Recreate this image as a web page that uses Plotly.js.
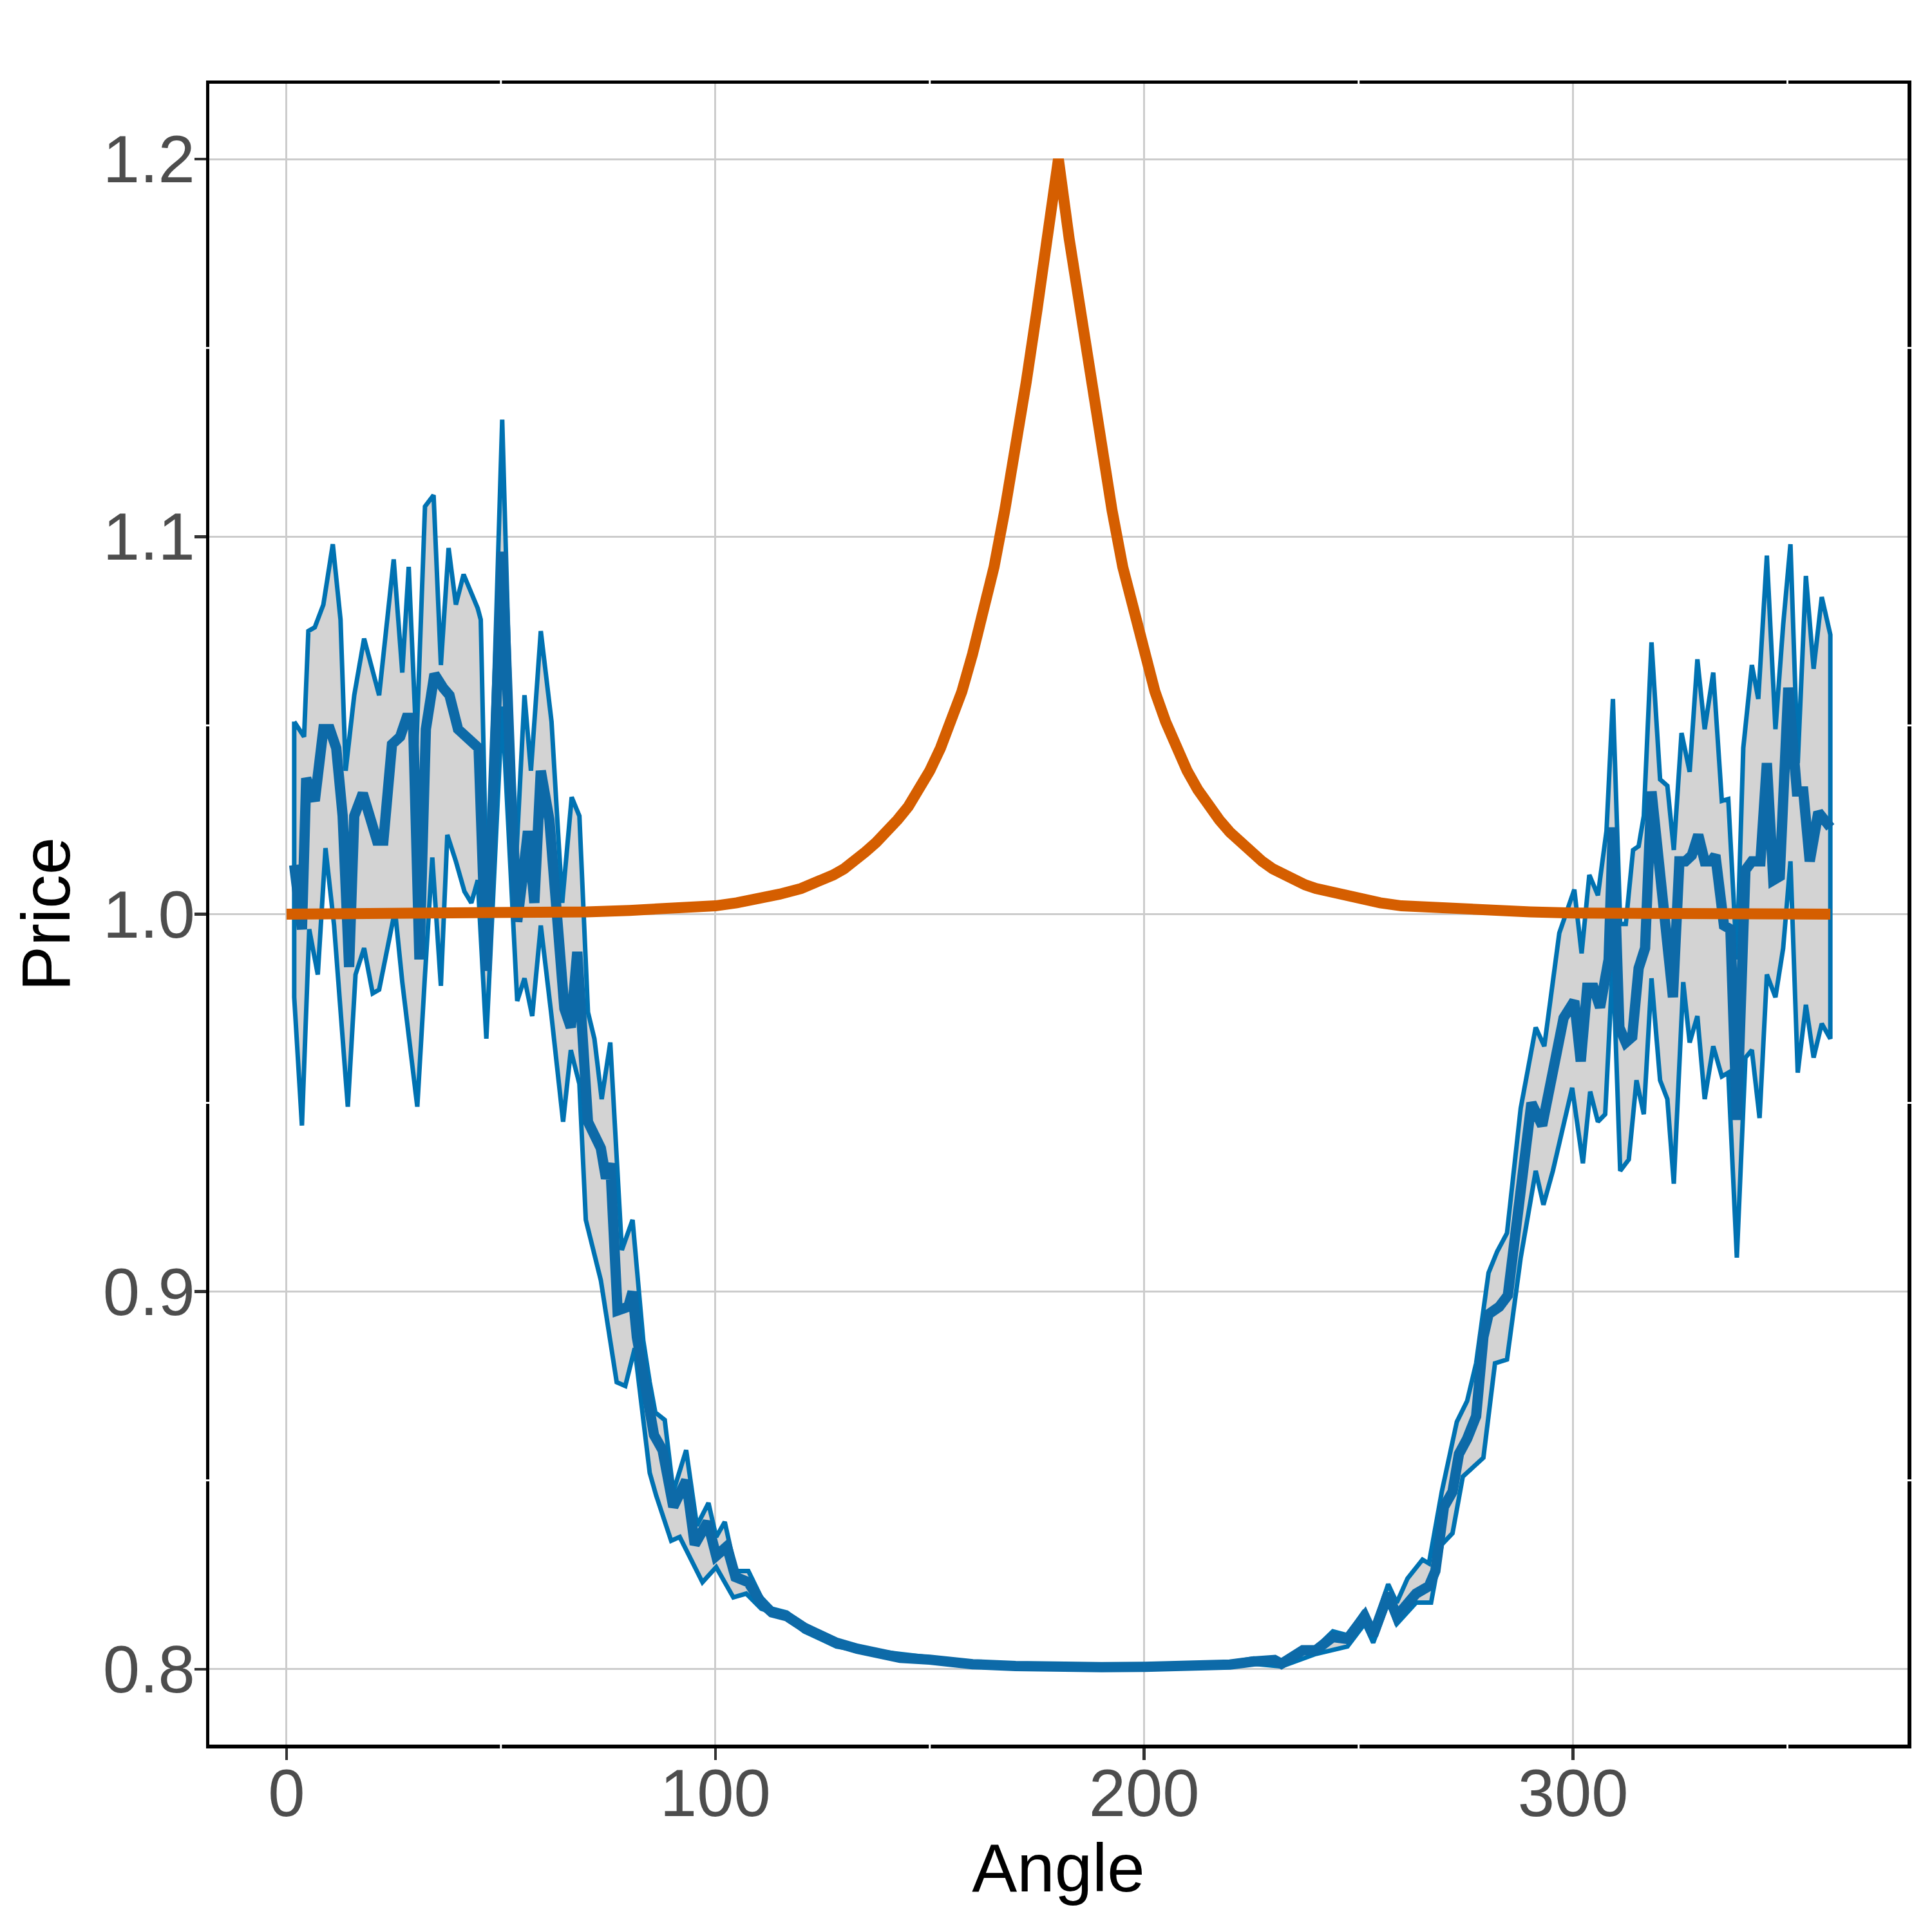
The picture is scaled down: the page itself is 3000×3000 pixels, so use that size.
<!DOCTYPE html>
<html>
<head>
<meta charset="utf-8">
<script src="https://cdn.plot.ly/plotly-3.0.1.min.js"></script>
<style>
  html, body { margin: 0; padding: 0; background: #ffffff; }
  #chart { width: 3000px; height: 3000px; }
</style>
</head>
<body>
<div id="chart"></div>
<script>
// upper edge of the band
let upperAngle = [1.8, 4.1, 5.1, 6.6, 8.6, 10.8, 12.6, 13.8, 15.8, 18.1, 21.6, 25.0, 27.0, 28.5, 30.3, 32.3, 34.3, 36.0, 37.8, 39.5,
  41.3, 44.6, 45.3, 46.8, 50.3, 53.3, 55.5, 57.0, 59.3, 61.8, 64.3, 66.5, 68.3, 70.3, 71.8, 73.5, 75.5, 78.2, 80.7, 83.2,
  84.7, 86.0, 88.2, 90.2, 93.2, 95.7, 98.4, 100.2, 102.2, 104.7, 107.7, 110.7, 113.2, 116.7, 120.7, 128.2, 133.1, 138.1, 143.1, 150,
  160, 170, 180, 190, 200, 210, 220, 225.5, 232, 240, 244, 247.4, 251.4, 253.4, 256.9, 258.9, 261.4, 264.9, 266.4, 269.4,
  272.9, 275.3, 277.4, 280.3, 282.3, 284.6, 287.8, 291.3, 293.3, 296.8, 300.3, 302.0, 303.8, 305.8, 307.8, 309.3, 311.0, 312.3, 314.0, 315.3,
  316.5, 318.3, 320.3, 322.0, 323.5, 325.3, 327.2, 329.0, 330.7, 332.7, 334.7, 336.2, 338.2, 339.7, 341.7, 343.2, 345.2, 347.2, 349.0, 350.7,
  352.4, 354.3, 356.1, 358.0, 360.0]
let upperPrice = [1.051, 1.047, 1.075, 1.076, 1.082, 1.098, 1.078, 1.038, 1.058, 1.073, 1.058, 1.094, 1.064, 1.092, 1.045, 1.108, 1.111, 1.066, 1.097, 1.082,
  1.090, 1.081, 1.078, 0.999, 1.131, 1.009, 1.058, 1.038, 1.075, 1.051, 1.003, 1.031, 1.026, 0.974, 0.967, 0.951, 0.966, 0.911, 0.919, 0.887,
  0.876, 0.868, 0.866, 0.847, 0.858, 0.838, 0.844, 0.835, 0.839, 0.826, 0.826, 0.819, 0.816, 0.815, 0.811, 0.8075, 0.806, 0.8047, 0.804, 0.803,
  0.8018, 0.8012, 0.8008, 0.8008, 0.8009, 0.8012, 0.8018, 0.8028, 0.8022, 0.8056, 0.810, 0.809, 0.8155, 0.8106, 0.8225, 0.8176, 0.824, 0.829, 0.828, 0.847,
  0.8655, 0.871, 0.881, 0.905, 0.9106, 0.9155, 0.9486, 0.970, 0.965, 0.995, 1.0065, 0.9896, 1.0104, 1.005, 1.022, 1.057, 0.9974, 0.9974, 1.017, 1.018,
  1.026, 1.072, 1.0357, 1.034, 1.017, 1.048, 1.0377, 1.0675, 1.049, 1.064, 1.030, 1.0305, 0.988, 1.044, 1.066, 1.057, 1.095, 1.049, 1.0766, 1.098,
  1.040, 1.0896, 1.065, 1.084, 1.074]

// lower edge of the band
let lowerAngle = [1.8, 3.6, 5.3, 7.3, 9.1, 11.1, 14.3, 16.1, 18.1, 20.1, 21.6, 25.3, 27.0, 30.5, 32.3, 34.0, 36.0, 37.5, 39.5, 41.5,
  43.1, 44.6, 46.6, 50.3, 53.8, 55.5, 57.3, 59.3, 61.8, 64.5, 66.3, 68.3, 69.8, 73.3, 77.0, 79.0, 81.2, 84.7, 86.2, 89.7,
  91.7, 97.0, 100.2, 104.2, 107.2, 110.7, 116.7, 120.7, 128.2, 138.1, 143.1, 150, 160, 170, 180, 190, 200, 210, 220, 225.5,
  232, 240, 247.4, 251.4, 253.4, 256.9, 258.9, 263.4, 266.9, 269.4, 271.9, 274.3, 279.1, 281.8, 284.6, 287.8, 291.3, 293.1, 295.3, 299.8,
  302.3, 304.0, 305.8, 307.5, 309.3, 311.0, 313.0, 314.8, 316.5, 318.3, 320.3, 322.0, 323.5, 325.7, 327.2, 329.0, 330.7, 332.7, 334.7, 336.2,
  338.2, 340.2, 341.7, 343.5, 345.2, 347.2, 349.0, 350.7, 352.4, 354.3, 356.1, 358.0, 360.0]
let lowerPrice = [0.978, 0.944, 0.996, 0.984, 1.0175, 0.997, 0.949, 0.984, 0.991, 0.979, 0.980, 1.001, 0.982, 0.949, 0.984, 1.015, 0.981, 1.021, 1.014, 1.006,
  1.003, 1.009, 0.967, 1.055, 0.977, 0.983, 0.973, 0.997, 0.973, 0.945, 0.964, 0.955, 0.919, 0.903, 0.876, 0.875, 0.885, 0.852, 0.846, 0.834,
  0.835, 0.823, 0.827, 0.819, 0.820, 0.816, 0.8136, 0.810, 0.806, 0.804, 0.803, 0.802, 0.8008, 0.8003, 0.8001, 0.8001, 0.8002, 0.8004, 0.8008, 0.8014,
  0.8007, 0.804, 0.806, 0.812, 0.807, 0.8176, 0.812, 0.8176, 0.8176, 0.833, 0.836, 0.851, 0.856, 0.881, 0.882, 0.909, 0.932, 0.923, 0.932, 0.954,
  0.934, 0.953, 0.945, 0.947, 0.988, 0.932, 0.935, 0.956, 0.947, 0.983, 0.956, 0.951, 0.9286, 0.982, 0.966, 0.973, 0.951, 0.965, 0.957, 0.958,
  0.909, 0.962, 0.964, 0.946, 0.984, 0.978, 0.991, 1.014, 0.958, 0.976, 0.962, 0.971, 0.967]

// mean line
let meanAngle = [1.8, 3.6, 4.6, 6.6, 8.6, 10.1, 11.6, 13.1, 14.6, 15.8, 17.8, 19.6, 21.1, 22.6, 24.6, 26.5, 28.0, 29.5, 31.0, 32.5,
  34.5, 36.5, 38.0, 40.0, 42.3, 44.8, 46.6, 50.3, 52.3, 53.8, 55.3, 56.3, 57.8, 59.3, 61.3, 63.3, 64.8, 66.3, 67.8, 70.3,
  73.3, 74.5, 75.5, 77.2, 79.7, 80.7, 81.7, 83.7, 85.7, 87.7, 90.2, 93.2, 95.2, 98.2, 100.2, 102.7, 104.7, 107.7, 110.7, 113.2,
  116.7, 120.7, 128.2, 133.1, 138.1, 143.1, 150, 160, 170, 180, 190, 200, 210, 220, 225.5, 230.4, 232, 237, 240, 244,
  247.4, 251.4, 253.4, 256.9, 258.9, 263.4, 266.4, 267.9, 269.9, 271.9, 273.4, 275.3, 277.4, 279.1, 280.3, 282.8, 284.8, 286.3, 288.3, 290.3,
  292.8, 295.3, 297.8, 300.3, 301.8, 303.3, 304.8, 306.3, 308.3, 309.3, 310.8, 312.3, 313.8, 315.3, 316.8, 318.3, 319.8, 321.8, 323.3, 324.8,
  326.2, 327.7, 329.2, 330.7, 332.2, 333.2, 335.2, 336.7, 338.2, 340.2, 341.7, 343.7, 345.2, 346.7, 348.2, 350.2, 352.2, 353.7, 355.2, 357.2,
  360.0]
let meanPrice = [1.013, 0.996, 1.036, 1.030, 1.049, 1.049, 1.044, 1.026, 0.986, 1.026, 1.032, 1.026, 1.0195, 1.0195, 1.045, 1.047, 1.052, 1.052, 0.988, 1.049,
  1.0636, 1.060, 1.058, 1.049, 1.047, 1.044, 0.985, 1.096, 1.035, 0.998, 1.012, 1.022, 1.003, 1.038, 1.025, 1.000, 0.975, 0.970, 0.990, 0.945,
  0.938, 0.930, 0.934, 0.895, 0.896, 0.900, 0.888, 0.875, 0.862, 0.858, 0.843, 0.850, 0.833, 0.839, 0.830, 0.8325, 0.8244, 0.823, 0.8176, 0.815,
  0.814, 0.811, 0.807, 0.8054, 0.804, 0.803, 0.8025, 0.8013, 0.8008, 0.8005, 0.8005, 0.8006, 0.8008, 0.8012, 0.8020, 0.8024, 0.8014, 0.805, 0.805, 0.8085,
  0.808, 0.814, 0.809, 0.820, 0.814, 0.820, 0.822, 0.826, 0.843, 0.847, 0.857, 0.861, 0.867, 0.888, 0.894, 0.896, 0.899, 0.912, 0.930, 0.950,
  0.944, 0.960, 0.9725, 0.977, 0.961, 0.9805, 0.9805, 0.9753, 0.988, 1.023, 0.970, 0.966, 0.9675, 0.9857, 0.991, 1.0325, 1.014, 0.995, 0.978, 1.014,
  1.014, 1.0156, 1.021, 1.014, 1.014, 1.0156, 0.997, 0.996, 0.9455, 1.0117, 1.014, 1.014, 1.040, 1.009, 1.010, 1.060, 1.0325, 1.0325, 1.014, 1.027,
  1.023]

// reference price curve (orange), left half up to the peak, then right half
let refAngle = [0, 20, 40, 60, 70, 80, 90, 100, 105, 110,
  115, 120, 122.5, 125, 127.5, 130, 132.5, 135, 137.5, 140,
  142.5, 145, 147.5, 150, 152.5, 155, 157.5, 160, 162.5, 165,
  167.5, 170, 172.5, 175, 177.5, 180,
  182.5, 185, 187.5, 190, 192.5, 195, 197.5, 200, 202.5, 205,
  207.5, 210, 212.5, 215, 217.5, 220, 222.5, 225, 227.5, 230,
  232.5, 235, 237.5, 240, 245, 250, 255, 260, 270, 280,
  290, 300, 320, 340, 360]
let refPrice = [1.000, 1.000, 1.0001, 1.0003, 1.0006, 1.001, 1.0015, 1.0022, 1.003, 1.004,
  1.0053, 1.0068, 1.0078, 1.009, 1.0104, 1.012, 1.014, 1.0165, 1.019, 1.0217,
  1.025, 1.0285, 1.033, 1.038, 1.044, 1.051, 1.059, 1.069, 1.080, 1.092,
  1.107, 1.123, 1.141, 1.160, 1.179, 1.200,
  1.179, 1.160, 1.141, 1.123, 1.107, 1.092, 1.080, 1.069, 1.059, 1.051,
  1.044, 1.038, 1.033, 1.0285, 1.025, 1.0217, 1.019, 1.0165, 1.014, 1.012,
  1.0104, 1.009, 1.0078, 1.0068, 1.0053, 1.004, 1.003, 1.0022, 1.0015, 1.001,
  1.0006, 1.0003, 1.0001, 1.000, 1.000]

let xTicks = [0, 100, 200, 300]
let yTicks = [0.8, 0.9, 1.0, 1.1, 1.2]
let xMinor = [50, 150, 250, 350]
let yMinor = [0.85, 0.95, 1.05, 1.15]

// band polygon: upper edge forward, lower edge back, closed
let bandX = upperAngle.concat(lowerAngle.slice().reverse(), [upperAngle[0]])
let bandY = upperPrice.concat(lowerPrice.slice().reverse(), [upperPrice[0]])

let font = 'Liberation Sans, Arial, Helvetica, sans-serif'

let traces = [
  {
    x: bandX, y: bandY,
    type: 'scatter', mode: 'lines',
    fill: 'toself', fillcolor: '#D3D3D3',
    line: {color: '#0072B2', width: 7},
    hoverinfo: 'skip'
  },
  {
    x: meanAngle, y: meanPrice,
    type: 'scatter', mode: 'lines',
    line: {color: '#0D6AA8', width: 16}
  },
  {
    x: refAngle, y: refPrice,
    type: 'scatter', mode: 'lines',
    line: {color: '#D55E00', width: 17}
  }
]

// white notches of the minor grid where it crosses the panel border
let shapes = []
for (let v of xMinor) {
  shapes.push({type: 'line', xref: 'x', yref: 'paper', x0: v, x1: v, y0: -0.004, y1: 0.004, layer: 'above', line: {color: 'white', width: 3}})
  shapes.push({type: 'line', xref: 'x', yref: 'paper', x0: v, x1: v, y0: 0.996, y1: 1.004, layer: 'above', line: {color: 'white', width: 3}})
}
for (let v of yMinor) {
  shapes.push({type: 'line', xref: 'paper', yref: 'y', x0: -0.003, x1: 0.003, y0: v, y1: v, layer: 'above', line: {color: 'white', width: 3}})
  shapes.push({type: 'line', xref: 'paper', yref: 'y', x0: 0.997, x1: 1.003, y0: v, y1: v, layer: 'above', line: {color: 'white', width: 3}})
}

let axisCommon = {
  showgrid: true, gridcolor: '#CCCCCC', gridwidth: 3,
  zeroline: false,
  showline: true, linecolor: '#000000', linewidth: 5.5, mirror: true,
  ticks: 'outside', ticklen: 18, tickwidth: 4.5, tickcolor: '#333333',
  tickfont: {family: font, size: 103, color: '#4D4D4D'},
  automargin: false
}

var layout = {
  width: 3000, height: 3000,
  margin: {l: 325, r: 38, t: 130, b: 291},
  paper_bgcolor: '#ffffff', plot_bgcolor: '#ffffff',
  showlegend: false,
  shapes: shapes,
  xaxis: Object.assign({}, axisCommon, {
    range: [-18, 378],
    tickvals: xTicks,
    ticklabelstandoff: -36,
    title: {text: 'Angle', font: {family: font, size: 105, color: '#000000'}, standoff: 0}
  }),
  yaxis: Object.assign({}, axisCommon, {
    range: [0.78, 1.22],
    tickvals: yTicks,
    tickformat: '.1f',
    ticklabelstandoff: -22,
    title: {text: 'Price', font: {family: font, size: 105, color: '#000000'}, standoff: 18}
  })
}

Plotly.newPlot('chart', traces, layout, {staticPlot: true, displayModeBar: false})
</script>
</body>
</html>
